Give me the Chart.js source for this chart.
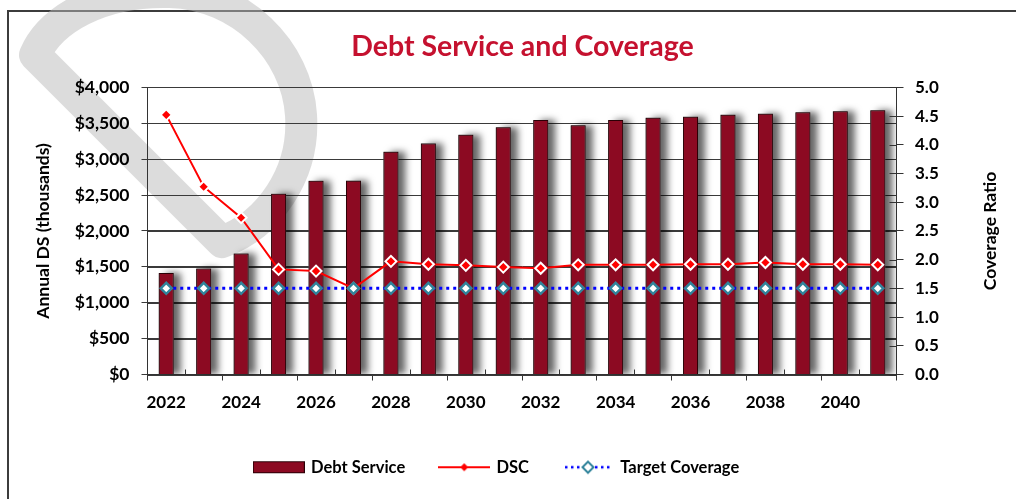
<!DOCTYPE html>
<html>
<head>
<meta charset="utf-8">
<script src="https://cdn.jsdelivr.net/npm/chart.js@4.4.1/dist/chart.umd.min.js"></script>
<style>
  html, body { margin: 0; padding: 0; background: #fff; overflow: hidden; }
  #frame { position: absolute; left: 7px; top: 10px; width: 1100px; height: 600px; border: 2px solid #3c3c3c; }
  #wrap { position: absolute; left: 0; top: 0; width: 1016px; height: 499px; }
</style>
</head>
<body>
<div id="frame"></div>
<div id="wrap"><canvas id="myChart"></canvas></div>
<script>
// datos
const years = ['2022', '2023', '2024', '2025', '2026', '2027', '2028', '2029', '2030', '2031',
               '2032', '2033', '2034', '2035', '2036', '2037', '2038', '2039', '2040', '2041'];
const debtService = [1413, 1475, 1684, 2516, 2697, 2700, 3102, 3219, 3339, 3442,
                     3544, 3470, 3544, 3576, 3590, 3618, 3632, 3651, 3665, 3679];
const dsc = [4.52, 3.27, 2.73, 1.83, 1.80, 1.50, 1.97, 1.92, 1.90, 1.87,
             1.85, 1.91, 1.91, 1.91, 1.92, 1.92, 1.95, 1.92, 1.92, 1.91];
const targetCoverage = [1.5, 1.5, 1.5, 1.5, 1.5, 1.5, 1.5, 1.5, 1.5, 1.5,
                        1.5, 1.5, 1.5, 1.5, 1.5, 1.5, 1.5, 1.5, 1.5, 1.5];
const seriesNames = ['Debt Service', 'DSC', 'Target Coverage'];

const BAR = '#8C0A22';
const BAR_EDGE = '#2b0006';
const AXIS = '#333333';
const GRID = '#3a3a3a';
const TEAL = '#31849B';

Chart.defaults.font.family = 'Lato';
Chart.defaults.color = '#000';

// iconos de la leyenda
function makeIcon(draw) {
  const c = document.createElement('canvas');
  c.width = 52; c.height = 16;
  draw(c.getContext('2d'));
  return c;
}
const legendIcons = [
  makeIcon(g => {
    g.fillStyle = BAR; g.fillRect(0.5, 2.5, 51, 11);
    g.strokeStyle = BAR_EDGE; g.lineWidth = 1; g.strokeRect(0.5, 2.5, 51, 11);
  }),
  makeIcon(g => {
    g.strokeStyle = '#FF0000'; g.lineWidth = 2;
    g.beginPath(); g.moveTo(0, 8); g.lineTo(52, 8); g.stroke();
    g.fillStyle = '#FF0000';
    g.beginPath(); g.moveTo(26, 4); g.lineTo(30, 8); g.lineTo(26, 12); g.lineTo(22, 8); g.closePath(); g.fill();
  }),
  makeIcon(g => {
    g.strokeStyle = '#0000FF'; g.lineWidth = 2.5; g.setLineDash([2.5, 3.5]);
    g.beginPath(); g.moveTo(3, 8); g.lineTo(50, 8); g.stroke();
    g.setLineDash([]);
    g.fillStyle = '#fff'; g.strokeStyle = TEAL; g.lineWidth = 2;
    g.beginPath(); g.moveTo(26, 2.5); g.lineTo(31.5, 8); g.lineTo(26, 13.5); g.lineTo(20.5, 8); g.closePath();
    g.fill(); g.stroke();
  })
];

// marca de agua gris
const watermark = {
  id: 'watermark',
  beforeDraw(chart) {
    const ctx = chart.ctx;
    ctx.save();
    ctx.strokeStyle = 'rgba(185,185,185,0.5)';
    ctx.lineWidth = 32;
    ctx.lineJoin = 'round';
    ctx.beginPath();
    ctx.moveTo(35, 55);
    ctx.lineTo(222, 242);
    ctx.bezierCurveTo(268, 225, 305, 175, 301, 115);
    ctx.bezierCurveTo(297, 50, 240, -6, 170, -8);
    ctx.bezierCurveTo(100, -10, 50, 20, 35, 55);
    ctx.closePath();
    ctx.stroke();
    ctx.restore();
  }
};

// lineas de cuadricula y sombra de las barras
const gridAndShadow = {
  id: 'gridAndShadow',
  beforeDatasetsDraw(chart) {
    const ctx = chart.ctx, ys = chart.scales.y, a = chart.chartArea;
    ctx.save();
    ctx.strokeStyle = GRID; ctx.lineWidth = 1;
    ctx.beginPath();
    ys.ticks.forEach(t => {
      const y = Math.round(ys.getPixelForValue(t.value)) + 0.5;
      ctx.moveTo(a.left, y); ctx.lineTo(a.right, y);
    });
    ctx.stroke();
    ctx.restore();
  },
  beforeDatasetDraw(chart, args) {
    if (args.index !== 0) return;
    const ctx = chart.ctx, a = chart.chartArea;
    ctx.save();
    ctx.beginPath();
    ctx.rect(a.left, a.top, a.right - a.left, a.bottom - a.top);
    ctx.clip();
    ctx.shadowColor = 'rgba(0,0,0,0.6)';
    ctx.shadowOffsetX = 7;
    ctx.shadowOffsetY = 0;
    ctx.shadowBlur = 7;
    ctx.fillStyle = '#666';
    args.meta.data.forEach(bar => {
      const p = bar.getProps(['x', 'y', 'base', 'width'], true);
      ctx.fillRect(p.x - p.width / 2, p.y, p.width, p.base - p.y);
    });
    ctx.restore();
  }
};

// marcas menores, titulo derecho y leyenda
const extras = {
  id: 'extras',
  afterLayout(chart) {
    const lg = chart.legend;
    const d = 497 - (lg.left + lg.right) / 2;
    lg.left += d; lg.right += d;
  },
  afterDraw(chart) {
    const ctx = chart.ctx;
    const xs = chart.scales.x, y1 = chart.scales.y1;
    const half = (xs.getPixelForValue(1) - xs.getPixelForValue(0)) / 2;
    ctx.save();
    ctx.strokeStyle = AXIS; ctx.lineWidth = 1;
    ctx.beginPath();
    for (let i = 1; i < years.length; i += 2) {
      const x = Math.round(xs.getPixelForValue(i) - half) + 0.5;
      ctx.moveTo(x, xs.top); ctx.lineTo(x, xs.top - 5);
    }
    y1.ticks.forEach(t => {
      const y = Math.round(y1.getPixelForValue(t.value)) + 0.5;
      ctx.moveTo(y1.left - 7, y); ctx.lineTo(y1.left, y);
    });
    ctx.stroke();
    ctx.translate(990, (chart.chartArea.top + chart.chartArea.bottom) / 2);
    ctx.rotate(-Math.PI / 2);
    ctx.font = 'bold 17.5px Lato';
    ctx.fillStyle = '#000';
    ctx.textAlign = 'center';
    ctx.textBaseline = 'middle';
    ctx.fillText('Coverage Ratio', 0, 0);
    ctx.restore();
  }
};

const tickFont = { family: 'Lato', size: 17, weight: 'bold' };

const ctx = document.getElementById('myChart').getContext('2d');
new Chart(ctx, {
  type: 'bar',
  data: {
    labels: years,
    datasets: [{
      type: 'bar',
      label: seriesNames[0],
      data: debtService,
      backgroundColor: BAR,
      borderColor: BAR_EDGE,
      borderWidth: 1,
      barPercentage: 0.8,
      categoryPercentage: 0.5,
      yAxisID: 'y',
      order: 2
    }, {
      type: 'line',
      label: seriesNames[1],
      data: dsc,
      borderColor: '#FF0000',
      borderWidth: 2,
      pointStyle: 'rectRot',
      pointRadius: 5.5,
      pointBackgroundColor: '#FF0000',
      pointBorderColor: '#fff',
      pointBorderWidth: 2,
      tension: 0,
      yAxisID: 'y1',
      order: 1
    }, {
      type: 'line',
      label: seriesNames[2],
      data: targetCoverage,
      borderColor: '#0000FF',
      borderWidth: 3,
      borderDash: [3, 4],
      pointStyle: 'rectRot',
      pointRadius: 5.5,
      pointBackgroundColor: '#fff',
      pointBorderColor: TEAL,
      pointBorderWidth: 2.5,
      yAxisID: 'y1',
      order: 0
    }]
  },
  options: {
    responsive: true,
    maintainAspectRatio: false,
    animation: false,
    events: [],
    layout: { padding: { left: 29, right: 0, top: 0, bottom: 13.5 } },
    plugins: {
      title: {
        display: true,
        text: 'Debt Service and Coverage',
        color: '#C5112F',
        font: { family: 'Lato', size: 28.5, weight: 'bold' },
        padding: { top: 30, bottom: 23.1 }
      },
      legend: {
        position: 'bottom',
        labels: {
          usePointStyle: true,
          pointStyleWidth: 48,
          padding: 35,
          color: '#000',
          font: { family: 'Lato', size: 16.5, weight: 'bold' },
          sort: (a, b) => a.datasetIndex - b.datasetIndex,
          generateLabels(chart) {
            const items = Chart.defaults.plugins.legend.labels.generateLabels(chart);
            items.forEach(it => { it.pointStyle = legendIcons[it.datasetIndex]; it.rotation = 0; });
            return items;
          }
        }
      },
      tooltip: { enabled: false }
    },
    scales: {
      x: {
        offset: true,
        grid: {
          offset: true,
          drawOnChartArea: false,
          tickLength: 6,
          color: c => (c.index === undefined || c.index % 2 === 0) ? AXIS : 'rgba(0,0,0,0)'
        },
        border: { color: AXIS, width: 1 },
        ticks: {
          autoSkip: false,
          maxRotation: 0,
          padding: 12,
          font: tickFont,
          color: '#000',
          callback: (v, i) => i % 2 === 0 ? years[i] : ''
        },
        afterFit: s => { s.height = 49.5; }
      },
      y: {
        position: 'left',
        min: 0,
        max: 4000,
        ticks: {
          stepSize: 500,
          padding: 12,
          font: { family: 'Lato', size: 17.5, weight: 'bold' },
          color: '#000',
          callback: v => '$' + v.toLocaleString('en-US')
        },
        grid: { color: GRID, lineWidth: 1, tickLength: 6 },
        border: { color: AXIS, width: 1 },
        title: {
          display: true,
          text: 'Annual DS (thousands)',
          color: '#000',
          font: { family: 'Lato', size: 17.5, weight: 'bold' },
          padding: { top: 4, bottom: 4 }
        },
        afterFit: s => { s.width = 118.5; }
      },
      y1: {
        position: 'right',
        min: 0,
        max: 5,
        ticks: {
          stepSize: 0.5,
          padding: 11.5,
          font: tickFont,
          color: '#000',
          callback: v => v.toFixed(1)
        },
        grid: { drawOnChartArea: false, color: AXIS, tickLength: 7 },
        border: { color: AXIS, width: 1 },
        afterFit: s => { s.width = 119.5; }
      }
    }
  },
  plugins: [watermark, gridAndShadow, extras]
});
</script>
</body>
</html>
